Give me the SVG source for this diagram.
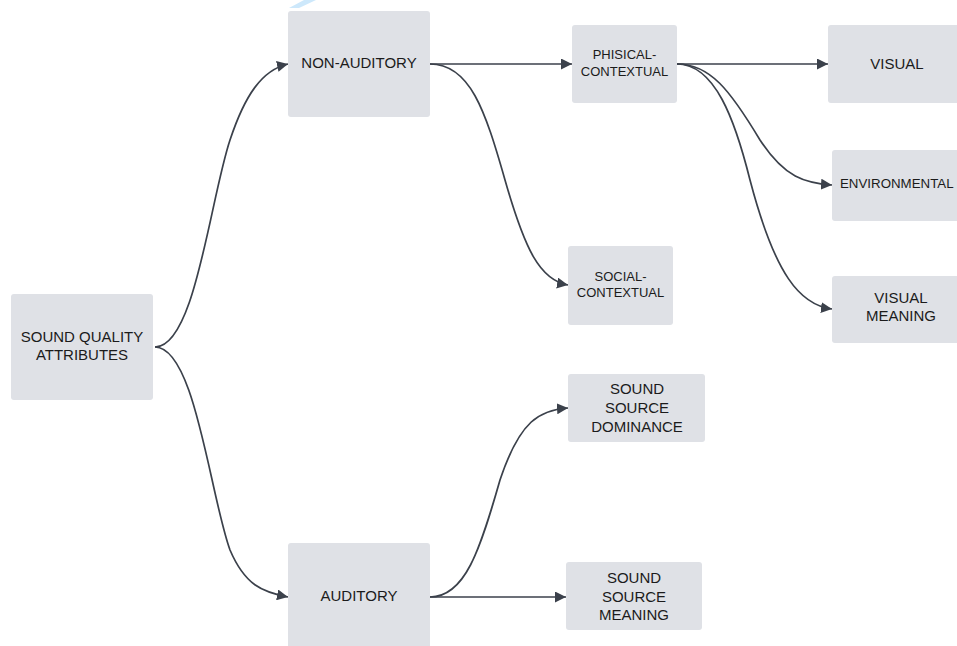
<svg xmlns="http://www.w3.org/2000/svg" width="957" height="646" viewBox="0 0 957 646">
<defs>
<style>
.box{fill:#dfe1e6;}
.t{font-family:"Liberation Sans",Arial,sans-serif;font-size:15px;fill:#1b1b1b;text-anchor:middle;}
.s{font-size:13px;}
.c{fill:none;stroke:#3b414b;stroke-width:1.7;marker-end:url(#ah);}
</style>
<marker id="ah" viewBox="0 0 10 10" refX="10" refY="5" markerWidth="11" markerHeight="11" markerUnits="userSpaceOnUse" orient="auto">
<path d="M0,0 L10,5 L0,10 z" fill="#3b414b"/>
</marker>
</defs>
<rect width="957" height="646" fill="#ffffff"/>
<polygon points="289,8 299,8 316,0 304,0" fill="#cde8fb"/>
<g id="connectors">
<path class="c" d="M155,347 C195,347 210,200 230,140 C245,95 262,70 288,64"/>
<path class="c" d="M155,347 C195,347 210,495 230,550 C245,585 262,592 288,597"/>
<path class="c" d="M430,64 L572,64"/>
<path class="c" d="M430,64 C470,64 485,110 505,180 C525,250 540,280 568,285"/>
<path class="c" d="M677,64 L828,64"/>
<path class="c" d="M677,64 C710,64 730,90 760,140 C785,178 805,183 832,185"/>
<path class="c" d="M677,64 C715,64 735,120 750,180 C775,275 800,305 832,309"/>
<path class="c" d="M430,597 C465,597 480,550 500,480 C520,420 540,410 568,408"/>
<path class="c" d="M430,597 L566,597"/>
</g>
<g id="sqa">
<rect class="box" x="11" y="294" width="142" height="106" rx="3"/>
<text class="t" x="82" y="342">SOUND QUALITY</text>
<text class="t" x="82" y="360">ATTRIBUTES</text>
</g>
<g id="non-auditory">
<rect class="box" x="288" y="11" width="142" height="106" rx="3"/>
<text class="t" x="359" y="68">NON-AUDITORY</text>
</g>
<g id="auditory">
<rect class="box" x="288" y="543" width="142" height="110" rx="3"/>
<text class="t" x="359" y="601">AUDITORY</text>
</g>
<g id="phisical">
<rect class="box" x="572" y="25" width="105" height="78" rx="3"/>
<text class="t s" x="624.5" y="59">PHISICAL-</text>
<text class="t s" x="624.5" y="76">CONTEXTUAL</text>
</g>
<g id="social">
<rect class="box" x="568" y="246" width="105" height="79" rx="3"/>
<text class="t s" x="620.5" y="281">SOCIAL-</text>
<text class="t s" x="620.5" y="297">CONTEXTUAL</text>
</g>
<g id="dominance">
<rect class="box" x="568" y="374" width="137" height="68" rx="3"/>
<text class="t" x="637" y="394">SOUND</text>
<text class="t" x="637" y="413">SOURCE</text>
<text class="t" x="637" y="432">DOMINANCE</text>
</g>
<g id="meaning">
<rect class="box" x="566" y="562" width="136" height="68" rx="3"/>
<text class="t" x="634" y="583">SOUND</text>
<text class="t" x="634" y="602">SOURCE</text>
<text class="t" x="634" y="620">MEANING</text>
</g>
<g id="visual">
<rect class="box" x="828" y="25" width="140" height="78" rx="3"/>
<text class="t" x="897" y="69">VISUAL</text>
</g>
<g id="environmental">
<rect class="box" x="832" y="150" width="140" height="71" rx="3"/>
<text class="t" x="840" y="188" style="text-anchor:start;font-size:13.3px">ENVIRONMENTAL</text>
</g>
<g id="visual-meaning">
<rect class="box" x="832" y="276" width="140" height="67" rx="3"/>
<text class="t" x="901" y="303">VISUAL</text>
<text class="t" x="901" y="321">MEANING</text>
</g>
</svg>
